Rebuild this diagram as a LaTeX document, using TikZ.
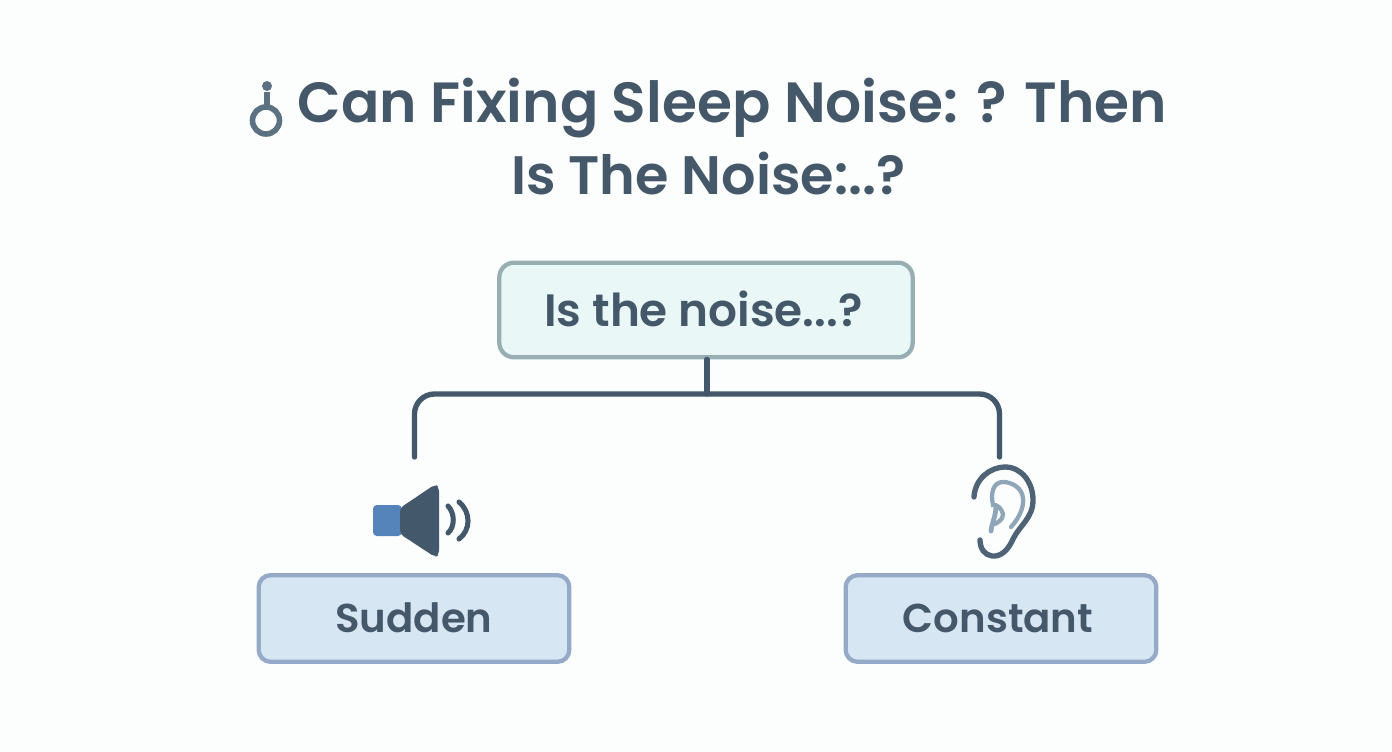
\documentclass[tikz,border=0pt]{standalone}
\usepackage{fontspec}
\setmainfont[BoldFont={Poppins SemiBold}]{Poppins}
\definecolor{bgc}{HTML}{FCFDFD}
\definecolor{ink}{HTML}{44586A}
\definecolor{linec}{HTML}{43586A}
\definecolor{topfill}{HTML}{E9F7F7}
\definecolor{topedge}{HTML}{98AEB3}
\definecolor{botfill}{HTML}{D6E6F3}
\definecolor{botedge}{HTML}{94AAC6}
\definecolor{spk}{HTML}{5584BA}
\definecolor{earlight}{HTML}{8FA5B8}
\definecolor{ringc}{HTML}{5C7182}
\definecolor{eardark}{HTML}{4E6375}
\tikzset{
  x=0.75pt,y=-0.75pt,
  titletext/.style={text=ink,font=\fontsize{42.5}{42.5}\selectfont\bfseries,inner sep=0pt,anchor=base},
  boxtext/.style={text=ink,font=\fontsize{34}{34}\selectfont\bfseries,inner sep=0pt},
  smalltext/.style={text=ink,font=\fontsize{30.2}{30.2}\selectfont\bfseries,inner sep=0pt},
  topbox/.style={draw=topedge,fill=topfill,line width=3.2pt,rounded corners=11pt,minimum width=310pt,minimum height=71pt,inner sep=0pt},
  botbox/.style={draw=botedge,fill=botfill,line width=3.2pt,rounded corners=9pt,minimum width=233pt,minimum height=65pt,inner sep=0pt},
  conn/.style={draw=linec,line width=4pt,line cap=round},
  earout/.style={draw=eardark,line width=4pt,line cap=round},
  earin/.style={draw=earlight,line width=3.2pt,line cap=round}
}
\begin{document}
\begin{tikzpicture}
\useasboundingbox (0,0) rectangle (1392,752);
\fill[bgc] (0,0) rectangle (1392,752);
\node[titletext] (t1) at (732.5,123) {Can Fixing Sleep Noise: ? Then};
\node[titletext,font=\fontsize{40.6}{40.6}\selectfont\bfseries] (t2) at (708.5,195) {Is The Noise:..?};
\fill[ringc] (267,86) circle (5);
\draw[ringc,line width=4.6pt] (267,92) -- (267,107);
\draw[ringc,line width=4.2pt] (266,120.5) circle (13.5);
\node[topbox] (q) at (706,310) {};
\node[boxtext] (ql) at (703.5,308.5) {Is the noise...?};
\node[botbox] (s) at (414,618.5) {};
\node[smalltext] (sl) at (414,618) {Sudden};
\node[botbox] (c) at (1001,618.5) {};
\node[smalltext] (cl) at (998,618) {Constant};
\coordinate (j) at (707,394);
\coordinate (sa) at (414.5,457);
\coordinate (ca) at (999.5,457);
\draw[conn] (q.south -| j) -- (j);
\draw[conn,rounded corners=15pt] (sa) |- (j) -| (ca);
\fill[spk,rounded corners=3pt] (373,505) rectangle (402,536);
\fill[linec,rounded corners=3pt] (400,508) -- (435,484.5) -- (439,487) -- (439,555) -- (435,557) -- (400,534) -- cycle;
\draw[linec,line width=3.8pt,line cap=round] (448,506) .. controls (455,513) and (455,527) .. (448,533);
\draw[linec,line width=3.8pt,line cap=round] (459,502) .. controls (471,512) and (471,530) .. (459,539);
\draw[earout] (974,497) .. controls (975,479) and (990,467) .. (1005,467) .. controls (1022,467) and (1033,483) .. (1033,500) .. controls (1033,518) and (1020,525) .. (1013,539) .. controls (1008,551) and (1000,557) .. (992,556) .. controls (985,555) and (980,549) .. (980,540);
\draw[earin] (1011,527) .. controls (1021,516) and (1024,505) .. (1023,498) .. controls (1022,488) and (1012,482) .. (1003,482) .. controls (994,482) and (990,492) .. (993,505) .. controls (997,504) and (1002,509) .. (1003,514) .. controls (1003,520) and (998,522) .. (995,524);
\draw[earin,line width=3.6pt] (996,506) .. controls (996,516) and (992,522) .. (991,531);
\end{tikzpicture}
\end{document}
